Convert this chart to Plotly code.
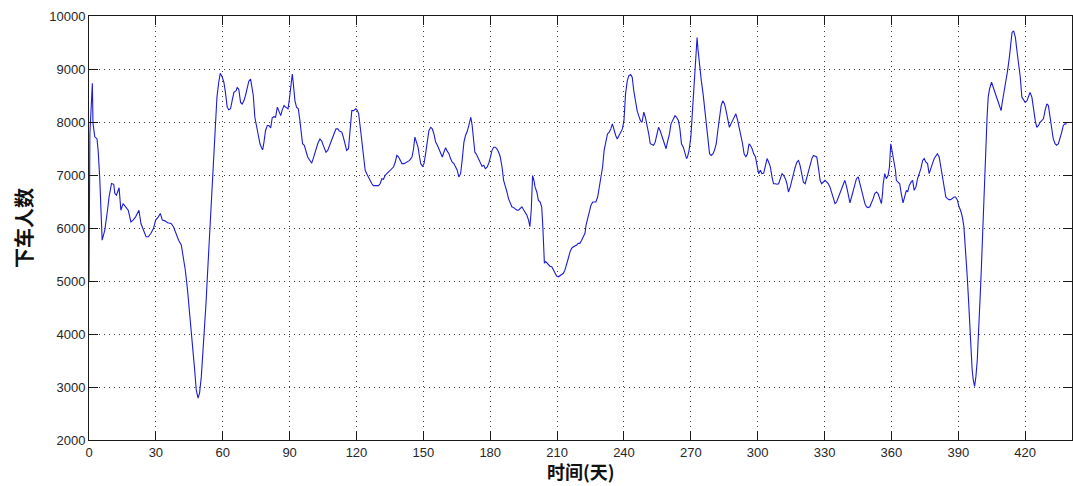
import plotly.graph_objects as go

days = [0, 0.4, 1.5, 1.8, 2.6, 3.6, 4.1, 4.8, 5.9, 7.1, 8.3, 9.0, 10.1, 11.1, 11.6, 12.3, 13.5, 14.3,
        15.3, 16.4, 17.6, 18.8, 19.8, 20.9, 22.4, 23.3, 24.4, 25.6, 26.6, 27.8, 28.9, 29.9, 31.1,
        32.0, 32.9, 34.1, 35.3, 36.8, 37.9, 38.9, 40.2, 41.4, 42.1, 43.2, 44.2, 45.1, 45.9, 46.6,
        47.4, 48.1, 48.9, 49.6, 50.4, 51.1, 51.9, 52.5, 53.1, 53.7, 54.3, 54.9, 55.5, 56.1, 56.7,
        57.4, 58.2, 58.9, 59.7, 60.5, 61.2, 62.0, 62.7, 63.5, 64.2, 65.0, 66.0, 66.5, 67.2, 68.0,
        68.7, 69.5, 70.2, 71.0, 71.7, 72.5,
        73.7, 74.4, 75.2, 75.9, 76.7, 77.4, 77.9, 78.5, 79.2, 80.0, 80.7, 81.5, 82.2, 83.0, 83.7,
        84.5, 85.2, 86.0, 86.7, 87.5, 88.2, 89.3, 89.9, 90.4, 91.2, 91.6, 92.4, 93.1, 93.9, 94.6,
        95.4, 95.8, 96.6, 97.3, 98.1, 99.1, 99.9, 100.6, 101.7, 102.6, 103.6, 104.4, 105.1, 106.3,
        107.1, 108.1, 108.9, 109.9, 110.8, 111.6, 112.3, 113.4, 114.1, 115.0, 115.6, 116.4, 116.8,
        117.4, 117.9, 118.6, 119.7, 120.4, 121.0, 121.6, 122.4, 123.1, 123.9, 124.6, 125.7, 126.9,
        127.6, 128.8, 129.9, 130.6, 131.4, 132.1, 132.9, 133.6, 135.1, 135.9, 136.6, 137.4, 138.1,
        138.9, 139.6, 140.4, 141.4, 142.6, 143.8, 144.9, 145.6, 146.2, 146.8, 147.6, 148.3,
        148.8, 149.6, 150.3, 151.0, 151.8, 152.5, 153.3, 154.0, 154.8, 155.5, 156.3, 157.0, 157.7,
        158.5, 159.2, 160.0, 160.7, 161.5, 162.2, 162.9, 163.7, 164.4, 165.2, 165.9, 166.7, 167.4,
        168.2, 168.9, 169.6, 170.4, 170.8, 171.3, 171.9, 172.6, 173.1, 173.7, 174.3, 174.9, 175.6,
        176.3, 177.1, 177.8, 178.6, 179.3, 180.1, 180.8, 181.5, 182.3, 183.0, 183.8, 184.5, 185.3,
        186.0, 186.8, 187.5, 188.2, 189.0, 189.7, 190.5, 191.2, 192.0, 192.7, 193.5, 194.2, 194.9,
        195.7, 196.4, 197.2, 197.8, 198.4, 198.7, 199.0, 199.6, 200.1, 200.9, 201.6, 202.4, 203.1,
        203.6, 203.9, 204.3, 204.9, 205.4, 206.1, 206.8, 207.6, 208.3, 209.1, 209.8, 210.6, 211.3,
        212.1, 212.8, 213.5, 214.3, 215.0, 215.8, 216.5, 217.3, 218.0, 218.8, 219.5, 220.2, 221.0,
        221.7, 222.5,
        223.0, 223.8, 224.5, 225.2, 226.0, 226.7, 227.4, 228.2, 228.9, 229.7, 230.4, 231.1, 231.9,
        232.6, 233.4, 234.1, 234.8, 235.6, 236.3, 237.0, 237.8, 238.5, 239.3, 240.0, 240.7, 241.5,
        242.2, 243.0, 243.7, 244.4, 245.2, 245.9, 246.6, 247.4, 248.1, 248.9, 249.6, 250.3, 251.1,
        251.8, 252.6, 253.3, 254.0, 254.8, 255.5, 256.2, 257.0, 257.7, 258.5, 258.9, 259.5, 260.4,
        261.1, 261.9, 262.9, 263.6, 264.4, 265.1, 265.8, 266.6, 267.3, 268.1, 268.5, 269.2, 270.0,
        270.7, 271.5, 272.2, 272.8, 273.2, 274.0, 274.7, 275.5, 276.2, 276.9, 277.7, 278.4, 279.1,
        279.9, 280.6, 281.4, 282.1, 282.8, 283.6, 284.3, 285.1, 285.8, 286.5, 287.3, 288.0, 288.7,
        289.5, 290.2, 291.0, 291.7, 292.4, 293.2, 293.9, 294.7, 295.4, 296.1,
        296.7, 297.5, 298.2, 299.0, 299.7, 300.4, 301.2, 301.9, 302.7, 303.4, 304.2, 304.9, 305.7,
        306.4, 307.1, 307.9, 308.6, 309.4, 310.1, 310.9, 311.6, 312.4, 313.1, 313.8, 314.6, 315.3,
        316.1, 316.8, 317.6, 318.3, 319.0, 319.8, 320.5, 321.3, 322.0, 322.8, 323.5, 324.3, 325.0,
        325.7, 326.5, 327.2, 328.0, 328.7, 329.5, 330.2, 331.0, 331.7, 332.4, 333.2, 333.9, 334.7,
        335.4, 336.2, 336.9, 337.6, 338.4, 339.1, 339.9, 340.6, 341.4, 342.1, 342.9, 343.6, 344.3,
        345.1, 345.8, 346.6, 347.3, 348.1, 348.8, 349.6, 350.3, 351.0, 351.8, 352.5, 353.3, 354.0,
        354.8, 355.5, 356.0, 356.3, 357.0, 357.7, 358.5, 359.1, 359.7, 360.0, 360.5, 361.0, 361.8,
        362.2, 362.9, 363.7, 364.4, 365.2, 365.9, 366.7,
        367.3, 368.0, 368.8, 369.5, 370.2, 371.0, 371.7, 372.5, 373.2, 374.0, 374.7, 375.4, 376.2,
        376.9, 377.7, 378.4, 379.2, 379.9, 380.6, 381.4, 382.1, 382.9, 383.6, 384.4, 385.1, 385.8,
        386.6, 387.3, 388.1, 388.8, 389.6, 390.3, 391.0, 391.8, 392.5, 393.0, 393.6, 394.0, 394.5,
        394.9, 395.3, 395.8, 396.2, 396.7, 397.3, 397.9, 398.5, 398.9, 399.4, 399.8, 400.3, 400.7,
        401.1, 401.6, 402.0, 402.5, 402.9, 403.4, 404.0, 404.9, 405.5, 406.2, 406.9, 407.7, 408.4,
        409.2, 409.6, 410.4, 411.1, 411.5, 412.1, 412.9, 413.5, 414.1, 414.8, 415.6, 416.3, 417.0,
        417.8, 418.5, 419.3, 420.0, 420.8, 421.5, 422.2, 423.0, 423.7, 424.5, 425.2, 426.0, 426.7,
        427.4, 428.2, 428.9, 429.7, 430.4, 431.2, 431.9, 432.6, 433.4, 434.1, 434.9, 435.6, 436.4,
        437.1, 437.8, 438.6]

riders = [5000, 7780, 8730, 7970, 7720, 7680, 7460, 6960, 5770, 5960, 6335, 6585, 6840, 6825, 6650,
          6620, 6760, 6335, 6460, 6400, 6335, 6115, 6150, 6210, 6335, 6085, 5960, 5835, 5835, 5900,
          5990, 6150, 6210, 6275, 6150, 6135, 6100, 6085, 6025, 5900, 5770, 5680, 5520, 5207, 4830,
          4455, 4080, 3700, 3325, 2950, 2790, 2885, 3200, 3640, 4080, 4580, 5080, 5585, 6085, 6585,
          7090, 7590, 8030, 8470, 8750, 8920, 8855, 8750, 8560, 8280, 8230, 8250, 8400, 8560, 8590,
          8650, 8620, 8370, 8340, 8400, 8500, 8655, 8770, 8810,
          8500, 8090, 7900, 7715, 7590, 7515, 7475, 7620, 7840, 7935, 7935, 7890, 8080, 8100, 8090,
          8280, 8185, 8120, 8230, 8310, 8280, 8250, 8435, 8590, 8905, 8750, 8400, 8280, 8250, 8030,
          7775, 7590, 7560, 7430, 7340, 7275, 7225, 7310, 7465, 7590, 7680, 7640, 7560, 7430, 7465,
          7590, 7680, 7775, 7870, 7870, 7830, 7810, 7715, 7590, 7465, 7495, 7715, 7965, 8215, 8215,
          8250, 8215, 8155, 7935, 7650, 7340, 7090, 7025, 6930, 6835, 6800, 6800, 6800, 6835, 6930,
          6920, 6995, 7025, 7090, 7120, 7150, 7245, 7370, 7340, 7275, 7215, 7215, 7245, 7275, 7340,
          7495, 7715, 7650, 7525, 7340,
          7215, 7165, 7215, 7400, 7650, 7840, 7900, 7870, 7765, 7620, 7560, 7495, 7400, 7340, 7430,
          7515, 7450, 7400, 7310, 7245, 7215, 7150, 7090, 6965, 7025, 7275, 7620, 7745, 7810, 7935,
          8030, 8090, 7935, 7590, 7430, 7400, 7340, 7275, 7215, 7165, 7185, 7120, 7150, 7215, 7340,
          7465, 7525, 7525, 7495, 7430, 7340, 7150, 6900, 6805, 6680, 6555, 6460, 6400, 6385, 6365,
          6335, 6335, 6365, 6400, 6350, 6305, 6245, 6150, 6025, 6335, 6835, 6990, 6900, 6775, 6680,
          6525, 6490, 6400, 6025, 5710, 5335, 5365, 5345, 5300, 5280, 5270, 5205, 5145, 5095, 5080,
          5100, 5110, 5145, 5205, 5300, 5425, 5550, 5615, 5645, 5660, 5680, 5710, 5710, 5770, 5835,
          5900,
          6055, 6180, 6335, 6430, 6490, 6490, 6490, 6585, 6775, 6930, 7150, 7465, 7650, 7775, 7810,
          7870, 7965, 7840, 7745, 7680, 7745, 7810, 7870, 8030, 8530, 8780, 8875, 8895, 8845, 8590,
          8370, 8215, 8120, 8025, 7995, 8185, 8090, 7965, 7775, 7590, 7575, 7560, 7620, 7775, 7900,
          7840, 7745, 7650, 7525, 7495, 7620, 7775, 7965, 8025, 8120, 8090, 8030, 7870, 7590, 7525,
          7400, 7310, 7340, 7465, 7715, 8215, 8655, 9095, 9595, 9375, 9030, 8780, 8530, 8280, 7965,
          7650, 7400, 7370, 7400, 7465, 7590, 7840, 8090, 8310, 8400, 8340, 8215, 8030, 7900, 7965,
          8030, 8090, 8155, 8030, 7900, 7745, 7590, 7400, 7340, 7400, 7590,
          7560, 7495, 7400, 7340, 7180, 7025, 7090, 7025, 7035, 7150, 7310, 7245, 7150, 6965, 6835,
          6835, 6825, 6835, 6930, 7025, 6995, 6930, 6835, 6680, 6775, 6900, 6995, 7150, 7245, 7275,
          7180, 7025, 6865, 6835, 6960, 7090, 7215, 7310, 7370, 7350, 7340, 7150, 6900, 6835, 6865,
          6900, 6865, 6835, 6775, 6680, 6555, 6460, 6490, 6585, 6650, 6710, 6805, 6900, 6775, 6615,
          6475, 6585, 6710, 6835, 6930, 6965, 6835, 6710, 6585, 6460, 6400, 6385, 6400, 6460, 6555,
          6650, 6680, 6650, 6555, 6460, 6650, 6835, 7025, 6930, 6995, 7150, 7590, 7525, 7400, 7275,
          7090, 6900, 6865, 6835, 6650, 6475, 6585, 6710,
          6680, 6805, 6865, 6900, 6710, 6775, 6930, 7025, 7120, 7275, 7310, 7245, 7215, 7025, 7150,
          7215, 7310, 7370, 7400, 7340, 7150, 6965, 6775, 6585, 6555, 6535, 6535, 6555, 6585, 6585,
          6525, 6400, 6335, 6210, 6025, 5710, 5395, 5080, 4705, 4330, 3950, 3640, 3325, 3135, 3010,
          3200, 3510, 3890, 4265, 4705, 5205, 5710, 6210, 6710, 7215, 7715, 8090, 8470, 8620, 8750,
          8685, 8590, 8500, 8400, 8310, 8215, 8340, 8530, 8720, 8780, 8970, 9220, 9470, 9690, 9720,
          9595, 9345, 9095, 8845, 8470, 8405, 8370, 8400, 8465, 8560, 8470, 8215, 8030, 7900, 7935,
          7995, 8030, 8060, 8215, 8340, 8310, 8090, 7840, 7680, 7590, 7560, 7590, 7680, 7810, 7935,
          7965, 7965]

x_ticks = list(range(0, 421, 30))
y_ticks = list(range(2000, 10001, 1000))

fig = go.Figure()
fig.add_trace(go.Scatter(x=days, y=riders, mode="lines",
                         line=dict(color="#1c1cd6", width=1.1), showlegend=False))

axis_common = dict(
    showline=True, linecolor="#1a1a1a", linewidth=1, mirror="ticks",
    ticks="inside", ticklen=9, tickwidth=1, tickcolor="#1a1a1a",
    showgrid=True, gridcolor="#3a3a3a", gridwidth=1, griddash="1px,4px",
    zeroline=False,
    tickfont=dict(family="Liberation Sans, Arial", size=13, color="#262626"),
)

fig.update_layout(
    width=1073, height=486,
    margin=dict(l=89, r=1, t=16, b=46),
    paper_bgcolor="white", plot_bgcolor="white",
    xaxis=dict(range=[0, 441], tickvals=x_ticks, ticktext=[str(v) for v in x_ticks], **axis_common),
    yaxis=dict(range=[2000, 10000], tickvals=y_ticks, ticktext=[str(v) for v in y_ticks], **axis_common),
    annotations=[
        dict(text="<b>时间(天)</b>", xref="paper", yref="paper", x=0.5, y=0,
             xanchor="center", yanchor="middle", yshift=-31, showarrow=False,
             font=dict(family="Noto Sans CJK SC", size=18, color="#111111")),
        dict(text="<b>下车人数</b>", xref="paper", yref="paper", x=0, y=0.5,
             xanchor="center", yanchor="middle", xshift=-66, textangle=-90, showarrow=False,
             font=dict(family="Noto Sans CJK SC", size=20, color="#111111")),
    ],
)

fig.write_html("out.html")
